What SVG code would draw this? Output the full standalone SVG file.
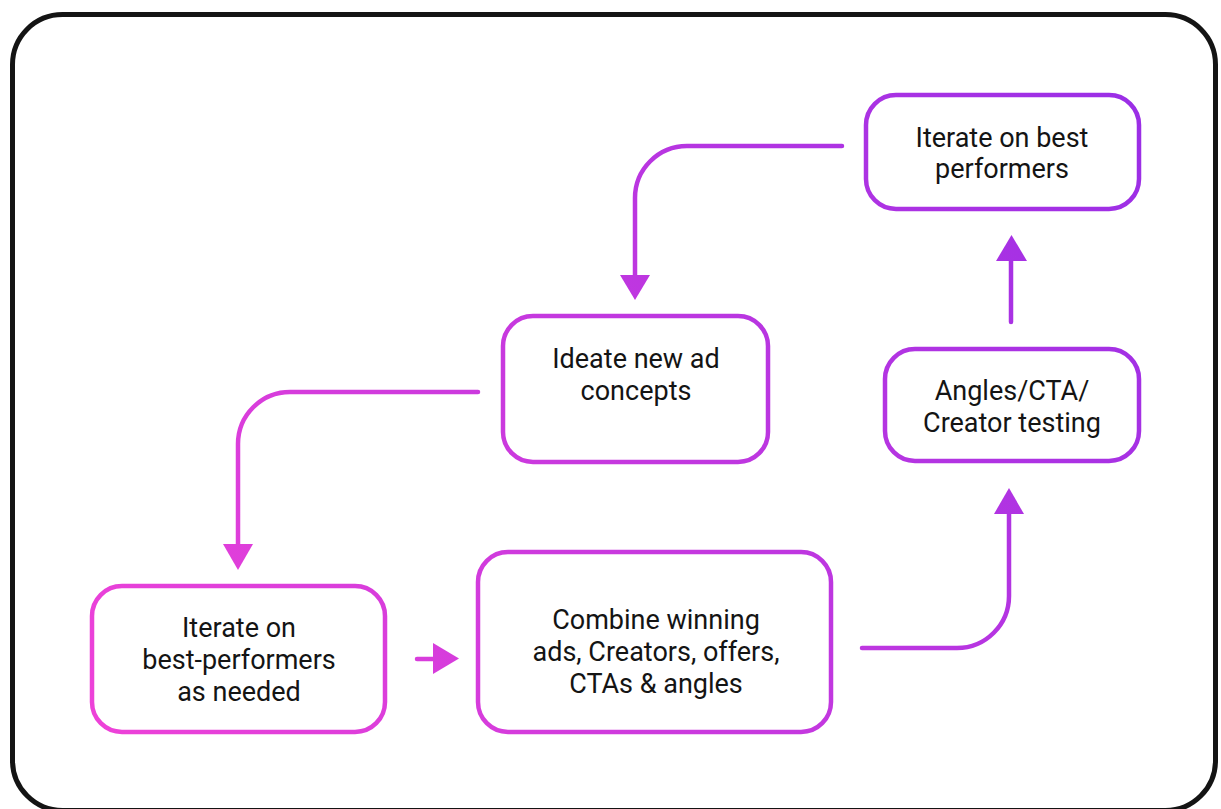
<svg xmlns="http://www.w3.org/2000/svg" width="1221" height="809" viewBox="0 0 1221 809">
  <defs>
    <linearGradient id="g" gradientUnits="userSpaceOnUse" x1="90" y1="734" x2="1140" y2="93">
      <stop offset="0" stop-color="#ee42d8"/>
      <stop offset="1" stop-color="#9a2ee6"/>
    </linearGradient>
  </defs>
  <style>
    .box { fill: #ffffff; stroke: url(#g); stroke-width: 4.5; }
    .con { fill: none; stroke: url(#g); stroke-width: 4.5; stroke-linecap: round; stroke-linejoin: round; }
    .head { fill: url(#g); stroke: none; }
    .t { font-family: Roboto, "Liberation Sans", sans-serif; font-size: 27px; font-weight: 400; fill: #141414; text-anchor: middle; }
  </style>
  <rect width="1221" height="809" fill="#ffffff"/>
  <rect x="12.5" y="14.5" width="1203" height="796" rx="50" ry="50" fill="none" stroke="#141414" stroke-width="5"/>

  <g id="connectors">
    <path class="con" d="M842,146 H687 A52,52 0 0 0 635,198 V278"/>
    <path class="head" d="M620,275 H650 L635,300 Z"/>
    <path class="con" d="M478,392 H290 A52,52 0 0 0 238,444 V547"/>
    <path class="head" d="M223,544 H253 L238,570 Z"/>
    <path class="con" d="M417,659 H436"/>
    <path class="head" d="M433,643 V674 L459,658.5 Z"/>
    <path class="con" d="M862,648 H957 A52,52 0 0 0 1009,596 V511"/>
    <path class="head" d="M994,514 H1024 L1009,488 Z"/>
    <path class="con" d="M1011,322 V258"/>
    <path class="head" d="M996,261 H1027 L1011.5,235 Z"/>
  </g>

  <g id="node-iterate-best">
    <rect class="box" x="866" y="95" width="273" height="114" rx="30"/>
    <text class="t" x="1002" y="147">Iterate on best</text>
    <text class="t" x="1002" y="178">performers</text>
  </g>
  <g id="node-ideate">
    <rect class="box" x="503" y="316" width="265" height="146" rx="30"/>
    <text class="t" x="636" y="368">Ideate new ad</text>
    <text class="t" x="636" y="400">concepts</text>
  </g>
  <g id="node-angles">
    <rect class="box" x="885" y="349" width="254" height="112" rx="30"/>
    <text class="t" x="1012" y="400">Angles/CTA/</text>
    <text class="t" x="1012" y="432">Creator testing</text>
  </g>
  <g id="node-iterate-needed">
    <rect class="box" x="92" y="586" width="293" height="146" rx="30"/>
    <text class="t" x="239" y="637">Iterate on</text>
    <text class="t" x="239" y="669">best-performers</text>
    <text class="t" x="239" y="701">as needed</text>
  </g>
  <g id="node-combine">
    <rect class="box" x="478" y="552" width="353" height="180" rx="30"/>
    <text class="t" x="656" y="629">Combine winning</text>
    <text class="t" x="656" y="661">ads, Creators, offers,</text>
    <text class="t" x="656" y="693">CTAs &amp; angles</text>
  </g>
</svg>
